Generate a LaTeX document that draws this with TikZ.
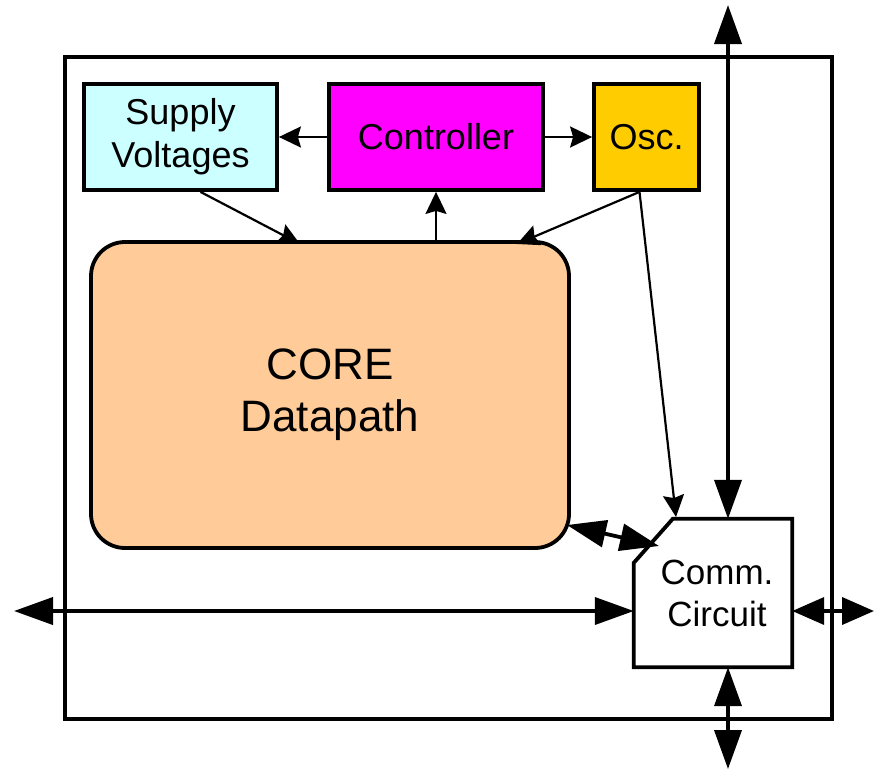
\documentclass[tikz,border=0pt]{standalone}
\usepackage{fontspec}
\setmainfont{Liberation Sans}
\usetikzlibrary{arrows.meta,calc}
\definecolor{supplyc}{HTML}{CCFFFF}
\definecolor{ctrlc}{HTML}{FF00FF}
\definecolor{oscc}{HTML}{FFCC00}
\definecolor{corec}{HTML}{FFCC99}
\tikzset{
  blk/.style={draw=black, line width=3.8pt, inner sep=0pt, align=center, font=\fontsize{36}{43}\selectfont},
  thin/.style={line width=2.2pt, -{Stealth[length=22pt,width=21pt,inset=3pt]}},
  bigarrow/.style={line width=3.8pt, {Triangle[length=39pt,width=27pt]}-{Triangle[length=39pt,width=27pt]}},
  shortarrow/.style={line width=3.8pt, {Triangle[length=32pt,width=27pt]}-{Triangle[length=32pt,width=27pt]}},
}
\begin{document}
\begin{tikzpicture}[x=1pt,y=-1pt]
\useasboundingbox (0,0) rectangle (874,771);
% outer frame
\draw[line width=3.8pt] (65,57) rectangle (832,719);
% blocks
\node[blk, fill=supplyc, minimum width=193pt, minimum height=106pt] (supply) at (180.5,137) {Supply\\Voltages};
\node[blk, fill=ctrlc, minimum width=214pt, minimum height=106pt] (ctrl) at (436,137) {Controller};
\node[blk, fill=oscc, minimum width=105pt, minimum height=106pt] (osc) at (646.5,137) {Osc.};
\node[blk, fill=corec, rounded corners=34pt, minimum width=478pt, minimum height=306pt, font=\fontsize{44}{52}\selectfont] (core) at (330,395) {CORE\\Datapath};
% comm circuit
\node[inner sep=0pt, minimum width=158pt, minimum height=148pt, align=center, font=\fontsize{35}{42}\selectfont] (comm) at (713,593) {\hspace*{8pt}Comm.\\\hspace*{8pt}Circuit};
\draw[line width=3.8pt, line join=miter] ($(comm.north west)+(39,0)$) -- (comm.north east) -- (comm.south east) -- (comm.south west) -- ($(comm.north west)+(0,44)$) -- cycle;
% free ends
\coordinate (lt) at (14,611);
\coordinate (rt) at (874,611);
\coordinate (top) at (728,5);
\coordinate (bot) at (728,769);
\coordinate (corec1) at (567,525);
\coordinate (diag1) at (659,546);
\coordinate (diag2) at (676,517);
% thin connectors
\draw[thin] (ctrl.west) -- (supply.east);
\draw[thin] (ctrl.east) -- (osc.east -| osc.west);
\draw[thin] (core.north -| ctrl.south) -- (ctrl.south);
\draw[thin] ([xshift=20pt]supply.south) -- (300,244);
\draw[thin] ([xshift=-7pt]osc.south) -- (517,244);
\draw[thin] ([xshift=-7pt]osc.south) -- (diag2);
% thick double arrows
\draw[bigarrow] (lt) -- (lt -| comm.west);
\draw[shortarrow] (comm.east |- rt) -- (rt);
\draw[bigarrow] (top) -- (top |- comm.north);
\draw[bigarrow] (top |- comm.south) -- (bot);
\draw[bigarrow] (corec1) -- (diag1);
\end{tikzpicture}
\end{document}
